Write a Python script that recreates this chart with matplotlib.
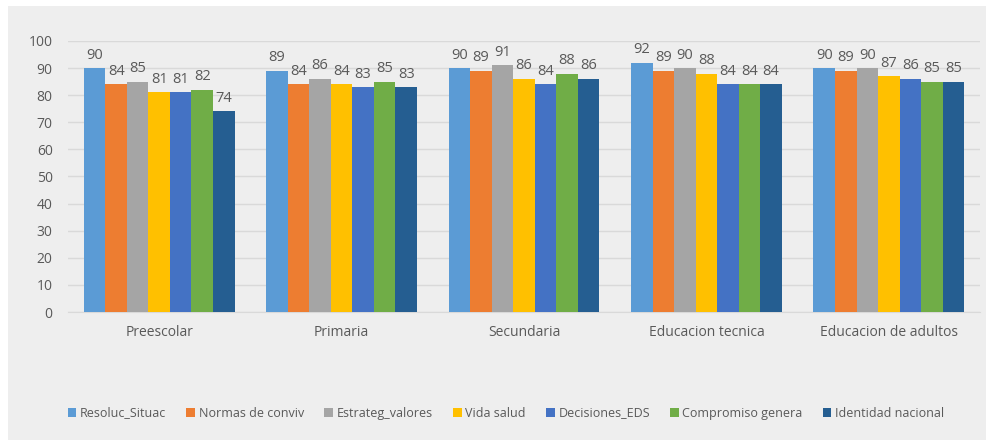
import matplotlib
matplotlib.use("Agg")
import matplotlib.pyplot as plt
from matplotlib.patches import Rectangle
import numpy as np

categories = ["Preescolar", "Primaria", "Secundaria", "Educacion tecnica", "Educacion de adultos"]
series_names = ["Resoluc_Situac", "Normas de conviv", "Estrateg_valores", "Vida salud",
                "Decisiones_EDS", "Compromiso genera", "Identidad nacional"]
resoluc = [90, 89, 90, 92, 90]
normas = [84, 84, 89, 89, 89]
estrateg = [85, 86, 91, 90, 90]
vida = [81, 84, 86, 88, 87]
decisiones = [81, 83, 84, 84, 86]
compromiso = [82, 85, 88, 84, 85]
identidad = [74, 83, 86, 84, 85]
series_values = [resoluc, normas, estrateg, vida, decisiones, compromiso, identidad]
colors = ["#5B9BD5", "#ED7D31", "#A5A5A5", "#FFC000", "#4472C4", "#70AD47", "#255E91"]
yticks = [0, 10, 20, 30, 40, 50, 60, 70, 80, 90, 100]

plt.rcParams['font.family'] = ['Open Sans', 'DejaVu Sans']
W, H = 987, 440
fig = plt.figure(figsize=(W / 100, H / 100), dpi=100, facecolor="white")
bg = "#eeeeee"
fig.patches.append(Rectangle((8 / W, 0), 1 - 8 / W, 1 - 6 / H, transform=fig.transFigure,
                             facecolor=bg, edgecolor="none", zorder=-5))

ax = fig.add_axes([68 / W, 1 - 312 / H, (980 - 68) / W, (312 - 41) / H])
ax.set_facecolor(bg)
x = np.arange(len(categories))
n = len(series_names)
bw = 0.118
txtc = "#595959"
for i, (name, vals, c) in enumerate(zip(series_names, series_values, colors)):
    pos = x + (i - (n - 1) / 2) * bw
    bars = ax.bar(pos, vals, width=bw, color=c, label=name, zorder=3)
    for b, v in zip(bars, vals):
        ax.annotate(f"{v}", (b.get_x() + b.get_width() / 2, v), xytext=(0, 4),
                    textcoords="offset points", ha="center", va="bottom",
                    fontsize=10.5, color=txtc)

ax.set_xlim(-0.5, len(categories) - 0.5)
ax.set_ylim(0, 100)
ax.set_yticks(yticks)
ax.set_xticks(x)
ax.set_xticklabels(categories)
ax.yaxis.grid(True, color="#d9d9d9", linewidth=1, zorder=0)
ax.set_axisbelow(True)
for s in ["top", "right", "left"]:
    ax.spines[s].set_visible(False)
ax.spines["bottom"].set_color("#d9d9d9")
ax.tick_params(axis="both", length=0, labelsize=10, labelcolor=txtc)
ax.tick_params(axis="x", pad=9)
ax.tick_params(axis="y", pad=11)

leg = fig.legend(loc="center", bbox_to_anchor=(506 / W, 1 - 413 / H), ncol=n, frameon=False,
                 fontsize=9, handlelength=0.7, handleheight=0.7, handletextpad=0.3,
                 columnspacing=1.6, labelcolor=txtc)

fig.savefig("out.png", dpi=100, facecolor=fig.get_facecolor())
